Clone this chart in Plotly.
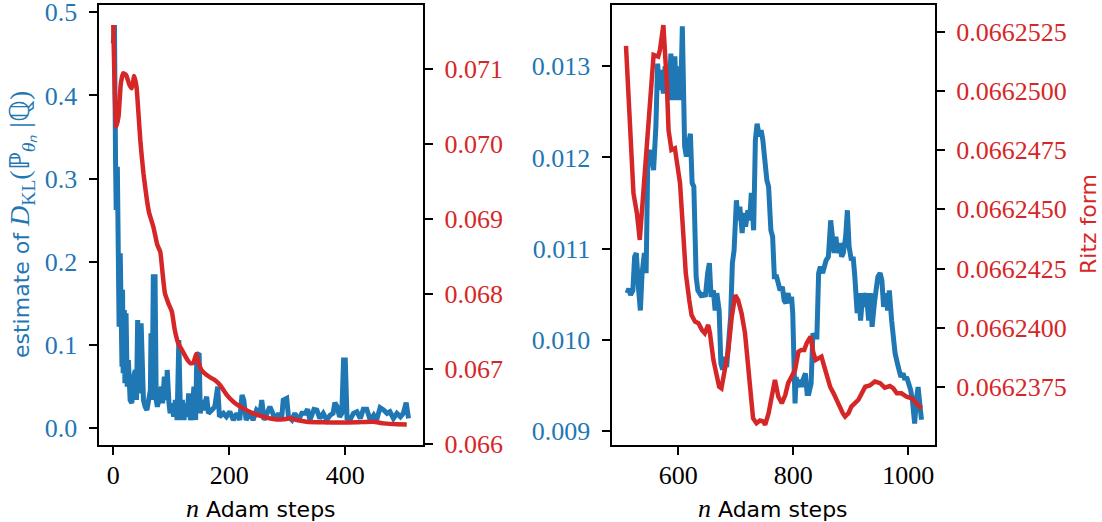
import plotly.graph_objects as go

BLUE = "#1f77b4"
RED = "#d62728"

# ---------------- data ----------------
left_blue_steps = [0, 2, 4, 5, 7, 8, 9, 10, 12, 13, 14, 15, 16, 17, 19, 20, 22, 24, 26, 29,
                   32, 35, 38, 40, 42, 45, 48, 50, 52, 55, 58, 61, 64, 65, 67, 69, 72, 74, 76, 80,
                   83, 85, 88, 91, 93, 96, 98, 101, 104, 107, 110, 113, 116, 119, 122, 124, 127, 130, 133, 136,
                   139, 142, 144, 148, 150, 153, 155, 161, 164, 170, 175, 180, 183, 190, 195, 201, 207, 213, 218, 222,
                   225, 229, 236, 241, 247, 253, 256, 260, 264, 270, 275, 279, 285, 290, 293, 299, 302, 308, 313, 319,
                   325, 331, 335, 339, 346, 351, 356, 362, 368, 374, 379, 382, 386, 390, 394, 397, 400, 403, 408, 414,
                   420, 426, 431, 437, 443, 449, 454, 460, 466, 472, 477, 483, 489, 495, 500, 505, 509]
left_blue_vals = [0.4627, 0.4847, 0.3143, 0.2622, 0.3143, 0.1940, 0.2582, 0.1218, 0.2101, 0.1258,
                  0.1700, 0.0737, 0.1663, 0.0658, 0.1419, 0.0538, 0.1380, 0.0497, 0.0818, 0.0337,
                  0.0300, 0.0617, 0.0698, 0.0337, 0.1299, 0.0417, 0.1259, 0.0858, 0.0337, 0.0256,
                  0.0217, 0.0337, 0.0457, 0.1139, 0.0337, 0.1820, 0.1820, 0.0337, 0.0256, 0.0377,
                  0.0497, 0.0297, 0.0617, 0.0337, 0.0698, 0.0297, 0.0177, 0.0297, 0.0136, 0.0337,
                  0.0096, 0.1058, 0.0096, 0.0337, 0.0096, 0.0297, 0.0136, 0.0417, 0.0096, 0.0217,
                  0.0497, 0.0096, 0.0878, 0.0898, 0.0177, 0.0337, 0.0217, 0.0377, 0.0177, 0.0217,
                  0.0257, 0.0497, 0.0136, 0.0177, 0.0136, 0.0196, 0.0096, 0.0177, 0.0096, 0.0397,
                  0.0337, 0.0096, 0.0177, 0.0096, 0.0217, 0.0177, 0.0337, 0.0096, 0.0177, 0.0257,
                  0.0177, 0.0096, 0.0177, 0.0096, 0.0337, 0.0357, 0.0136, 0.0096, 0.0177, 0.0096,
                  0.0177, 0.0177, 0.0225, 0.0096, 0.0225, 0.0217, 0.0116, 0.0177, 0.0096, 0.0156,
                  0.0177, 0.0305, 0.0257, 0.0136, 0.0177, 0.0818, 0.0818, 0.0116, 0.0096, 0.0177,
                  0.0196, 0.0116, 0.0225, 0.0225, 0.0096, 0.0156, 0.0096, 0.0245, 0.0217, 0.0177,
                  0.0196, 0.0116, 0.0177, 0.0136, 0.0177, 0.0305, 0.0116]

left_red_steps = [0, 5, 9, 13, 17, 22, 28, 32, 36, 40, 43, 47, 52, 58, 62, 69, 76, 81, 85, 89,
                  95, 101, 106, 112, 120, 128, 133, 138, 143, 147, 152, 161, 167, 175, 184, 196, 207, 224, 241, 259,
                  279, 293, 305, 316, 333, 362, 391, 420, 448, 466, 489, 506]
left_red_vals = [0.071592, 0.070233, 0.070367, 0.070813, 0.070947, 0.070924, 0.070790, 0.070746, 0.070910, 0.070768,
                 0.070456, 0.070012, 0.069611, 0.069254, 0.069077, 0.068898, 0.068654, 0.068564, 0.068276, 0.068009,
                 0.067875, 0.067763, 0.067518, 0.067341, 0.067229, 0.067118, 0.067074, 0.067081, 0.067198, 0.067081,
                 0.066984, 0.066917, 0.066887, 0.066851, 0.066784, 0.066650, 0.066561, 0.066473, 0.066406, 0.066361,
                 0.066326, 0.066326, 0.066339, 0.066317, 0.066294, 0.066286, 0.066284, 0.066286, 0.066294, 0.066272,
                 0.066259, 0.066257]

right_blue_steps = [511, 514, 517, 521, 524, 527, 531, 534, 537, 541, 544, 547, 551, 554, 557, 561, 564, 567, 571, 574,
                    577, 581, 584, 587, 591, 594, 597, 601, 604, 607, 609, 611, 614, 617, 621, 624, 627, 631, 634, 637,
                    641, 644, 647, 651, 654, 657, 661, 664, 667, 671, 674, 677, 681, 684, 687, 691, 694, 697, 701, 704,
                    707, 711, 714, 717, 721, 724, 727, 731, 734, 737, 741, 744, 747, 751, 754, 757, 761, 764, 767, 771,
                    774, 777, 781, 784, 787, 791, 794, 797, 799, 801, 803, 805, 807, 811, 814, 817, 821, 824, 827, 831,
                    834, 837, 841, 844, 847, 851, 854, 857, 861, 863, 865, 868, 871, 874, 877, 881, 884, 887, 891, 894,
                    897, 901, 904, 907, 911, 914, 917, 921, 924, 927, 931, 934, 937, 941, 944, 947, 951, 954, 957, 961,
                    964, 967, 971, 974, 977, 981, 984, 987, 991, 994, 997, 1001, 1004, 1007, 1011, 1014, 1017, 1021, 1023]
right_blue_vals = [0.01051, 0.01056, 0.01049, 0.01054, 0.01091, 0.01095, 0.01054, 0.01032, 0.01073, 0.01095,
                   0.01073, 0.01201, 0.01208, 0.01197, 0.01186, 0.01234, 0.01303, 0.01274, 0.01296, 0.01270,
                   0.01300, 0.01285, 0.01263, 0.01314, 0.01263, 0.01311, 0.01263, 0.01300, 0.01263, 0.01344,
                   0.01267, 0.01212, 0.01201, 0.01215, 0.01226, 0.01172, 0.01168, 0.01069, 0.01054, 0.01051,
                   0.01047, 0.01051, 0.01047, 0.01073, 0.01084, 0.01047, 0.01054, 0.01032, 0.01051, 0.01032,
                   0.00974, 0.00967, 0.00981, 0.00970, 0.00989, 0.01025, 0.01084, 0.01098, 0.01153, 0.01131,
                   0.01146, 0.01117, 0.01139, 0.01124, 0.01142, 0.01131, 0.01161, 0.01120, 0.01219, 0.01237,
                   0.01223, 0.01230, 0.01219, 0.01183, 0.01175, 0.01168, 0.01120, 0.01113, 0.01069, 0.01069,
                   0.01062, 0.01054, 0.01058, 0.01043, 0.01040, 0.01051, 0.01040, 0.01047, 0.01029, 0.00956,
                   0.00930, 0.00959, 0.00948, 0.00956, 0.00948, 0.00956, 0.00963, 0.00941, 0.00941, 0.00952,
                   0.01007, 0.01003, 0.01003, 0.01073, 0.01080, 0.01073, 0.01084, 0.01087, 0.01091, 0.01120,
                   0.01131, 0.01113, 0.01095, 0.01113, 0.01095, 0.01106, 0.01091, 0.01095, 0.01113, 0.01142,
                   0.01102, 0.01087, 0.01091, 0.01069, 0.01029, 0.01051, 0.01021, 0.01051, 0.01036, 0.01051,
                   0.01021, 0.01051, 0.01014, 0.01040, 0.01051, 0.01069, 0.01073, 0.01065, 0.01036, 0.01051,
                   0.01032, 0.01054, 0.01021, 0.00999, 0.00985, 0.00974, 0.00967, 0.00959, 0.00963, 0.00956,
                   0.00959, 0.00952, 0.00945, 0.00934, 0.00908, 0.00934, 0.00948, 0.00923, 0.00912]

right_red_steps = [509, 519, 522, 528, 533, 557, 565, 568, 574, 580, 583, 588, 594, 603, 609, 613, 619, 623, 629, 635,
                   641, 646, 652, 655, 661, 667, 671, 675, 681, 687, 693, 699, 704, 710, 716, 722, 728, 730, 736, 742,
                   748, 751, 757, 762, 768, 774, 780, 786, 791, 797, 803, 809, 814, 819, 823, 830, 835, 839, 843, 849,
                   853, 858, 864, 870, 875, 881, 886, 890, 896, 901, 907, 913, 919, 925, 933, 942, 951, 959, 968, 974,
                   980, 988, 997, 1006, 1014, 1023]
right_red_vals = [0.06625190, 0.06624652, 0.06624568, 0.06624483, 0.06624371, 0.06625152, 0.06625145, 0.06625173,
                  0.06625278, 0.06625032, 0.06624835, 0.06624751, 0.06624758, 0.06624610, 0.06624399, 0.06624230,
                  0.06624117, 0.06624054, 0.06624026, 0.06624019, 0.06623991, 0.06623977, 0.06624012, 0.06623977,
                  0.06623864, 0.06623780, 0.06623751, 0.06623744, 0.06623836, 0.06623906, 0.06624047, 0.06624138,
                  0.06624117, 0.06624061, 0.06623977, 0.06623836, 0.06623695, 0.06623618, 0.06623597, 0.06623608,
                  0.06623604, 0.06623590, 0.06623639, 0.06623695, 0.06623780, 0.06623709, 0.06623681, 0.06623716,
                  0.06623766, 0.06623794, 0.06623822, 0.06623899, 0.06623906, 0.06623906, 0.06623934, 0.06623963,
                  0.06623892, 0.06623864, 0.06623871, 0.06623878, 0.06623843, 0.06623794, 0.06623751, 0.06623723,
                  0.06623695, 0.06623667, 0.06623639, 0.06623625, 0.06623639, 0.06623667, 0.06623681, 0.06623695,
                  0.06623723, 0.06623751, 0.06623756, 0.06623773, 0.06623766, 0.06623747, 0.06623754, 0.06623744,
                  0.06623723, 0.06623723, 0.06623709, 0.06623702, 0.06623681, 0.06623660]

left_x_ticks = [0, 200, 400]
right_x_ticks = [600, 800, 1000]
left_blue_ticks = [0.0, 0.1, 0.2, 0.3, 0.4, 0.5]
left_red_ticks = [0.066, 0.067, 0.068, 0.069, 0.070, 0.071]
right_blue_ticks = [0.009, 0.010, 0.011, 0.012, 0.013]
right_red_ticks = [0.0662375, 0.0662400, 0.0662425, 0.0662450, 0.0662475, 0.0662500, 0.0662525]

# ---------------- figure ----------------
W, H = 1102, 522
TICKFONT = "Liberation Serif"
TFS = 26
LABEL_FS = 22


def px(x):
    return x / W


def py(y):
    return 1 - y / H


fig = go.Figure()
fig.add_trace(go.Scatter(x=left_blue_steps, y=left_blue_vals, mode="lines",
                         line=dict(color=BLUE, width=5), xaxis="x", yaxis="y", showlegend=False))
fig.add_trace(go.Scatter(x=left_red_steps, y=left_red_vals, mode="lines",
                         line=dict(color=RED, width=4.5, shape="spline", smoothing=0.4),
                         xaxis="x", yaxis="y2", showlegend=False))
fig.add_trace(go.Scatter(x=right_blue_steps, y=right_blue_vals, mode="lines",
                         line=dict(color=BLUE, width=5), xaxis="x2", yaxis="y3", showlegend=False))
fig.add_trace(go.Scatter(x=right_red_steps, y=right_red_vals, mode="lines",
                         line=dict(color=RED, width=4.5), xaxis="x2", yaxis="y4", showlegend=False))

ydom = [py(444.5), py(5)]
common_axis = dict(showgrid=False, zeroline=False, showline=True, linecolor="black", linewidth=2,
                   ticks="outside", ticklen=8, tickwidth=2, tickcolor="black", automargin=False,
                   ticklabeloverflow="allow")

fig.update_layout(
    width=W, height=H,
    margin=dict(l=0, r=0, t=0, b=0),
    paper_bgcolor="white", plot_bgcolor="white",
    font=dict(family="DejaVu Sans", size=LABEL_FS, color="black"),
    xaxis=dict(domain=[px(98.5), px(423.3)], range=[-25.5, 534.5], anchor="y",
               tickvals=left_x_ticks, tickfont=dict(family=TICKFONT, size=TFS, color="black"),
               mirror=True, ticklabelstandoff=-2, **common_axis),
    yaxis=dict(domain=ydom, range=[-0.0198, 0.5088], anchor="x", side="left",
               tickvals=left_blue_ticks, tickformat=".1f",
               tickfont=dict(family=TICKFONT, size=TFS, color=BLUE), mirror=True,
               ticklabelstandoff=6, **common_axis),
    yaxis2=dict(range=[0.06599, 0.071859], overlaying="y", anchor="x", side="right",
                tickvals=left_red_ticks, tickformat=".3f",
                tickfont=dict(family=TICKFONT, size=TFS, color=RED),
                ticklabelstandoff=6, **common_axis),
    xaxis2=dict(domain=[px(611.5), px(935)], range=[483.8, 1046.4], anchor="y3",
                tickvals=right_x_ticks, tickfont=dict(family=TICKFONT, size=TFS, color="black"),
                mirror=True, ticklabelstandoff=-2, **common_axis),
    yaxis3=dict(domain=ydom, range=[0.008849, 0.013673], anchor="x2", side="left",
                tickvals=right_blue_ticks, tickformat=".3f",
                tickfont=dict(family=TICKFONT, size=TFS, color=BLUE), mirror=True,
                ticklabelstandoff=6, **common_axis),
    yaxis4=dict(range=[0.06623507, 0.06625363], overlaying="y3", anchor="x2", side="right",
                tickvals=right_red_ticks, tickformat=".7f",
                tickfont=dict(family=TICKFONT, size=TFS, color=RED),
                ticklabelstandoff=6, **common_axis),
)

SER = "font-family:'Liberation Serif';font-size:28px"
left_title = ("estimate of <span style=\"" + SER + "\"><i>D</i><sub>KL</sub>(ℙ<sub><i>θₙ</i></sub> |ℚ)</span>")
xlab = "<span style=\"font-family:'Liberation Serif';font-size:26px\"><i>n</i></span> Adam steps"
annotations = [
    dict(text=left_title, x=px(21), y=py(225), textangle=-90, font=dict(color=BLUE, size=LABEL_FS)),
    dict(text="Ritz form", x=px(1088), y=py(224), textangle=-90, font=dict(color=RED, size=LABEL_FS)),
    dict(text=xlab, x=px(261), y=py(508), font=dict(color="black", size=LABEL_FS)),
    dict(text=xlab, x=px(773), y=py(508), font=dict(color="black", size=LABEL_FS)),
]
for a in annotations:
    a.update(xref="paper", yref="paper", showarrow=False, xanchor="center", yanchor="middle")
fig.update_layout(annotations=annotations)

fig.write_html("out.html")
